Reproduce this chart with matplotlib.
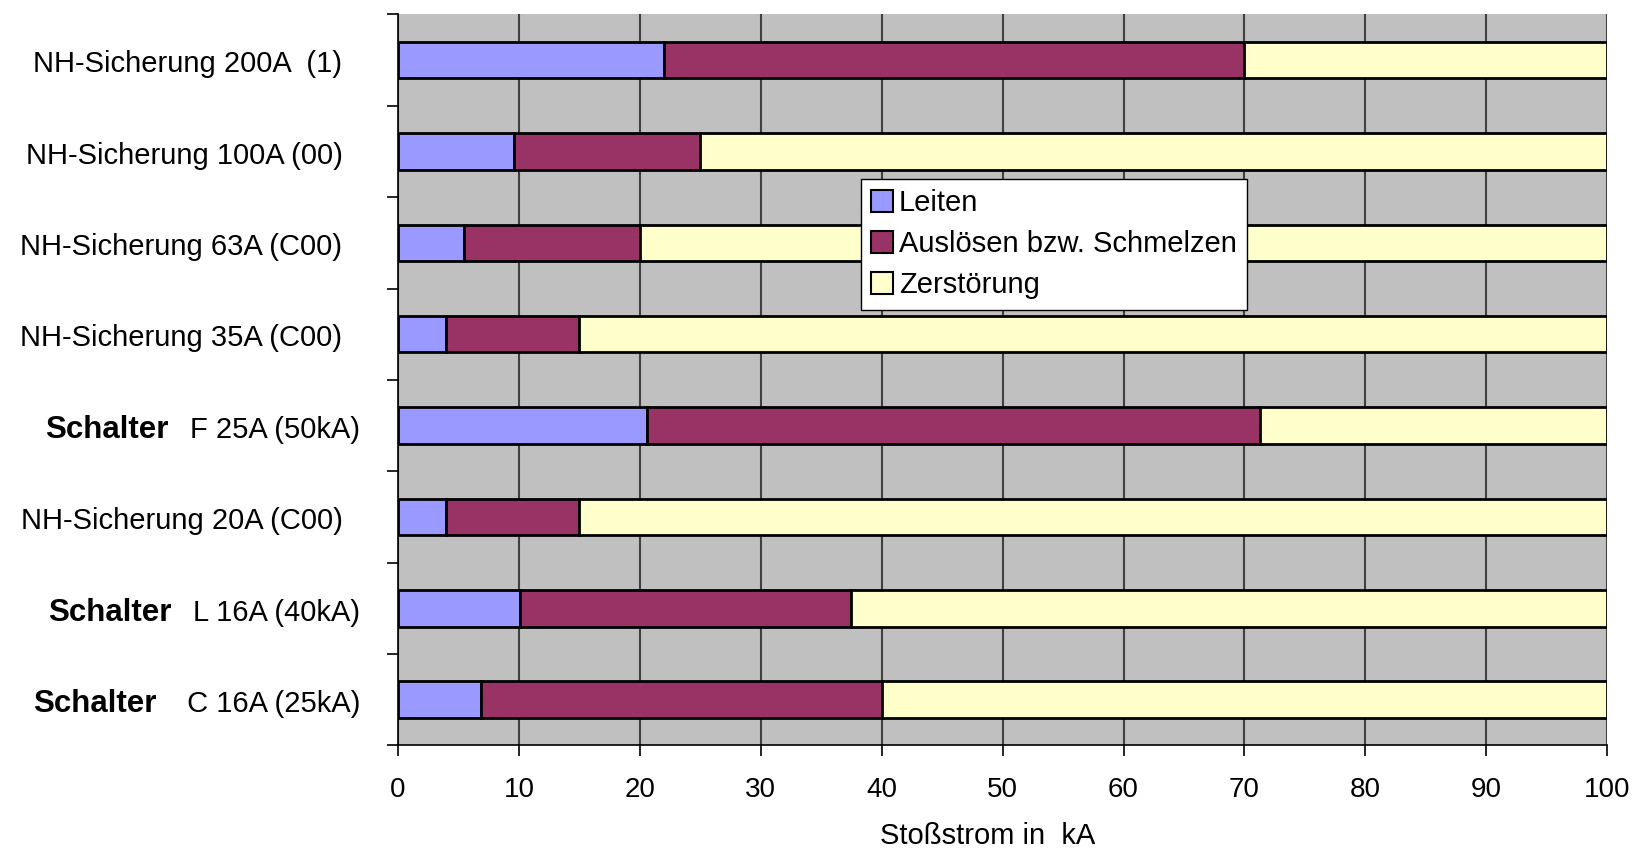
import numpy as np
from matplotlib import pyplot as plt

plt.rcParams['font.family'] = ['Liberation Sans', 'DejaVu Sans']

# categories from top to bottom, "Schalter" prefix is drawn bold
prefixes = ["", "", "", "", "Schalter", "", "Schalter", "Schalter"]
names = [
    "NH-Sicherung 200A  (1)",
    "NH-Sicherung 100A (00)",
    "NH-Sicherung 63A (C00)",
    "NH-Sicherung 35A (C00)",
    "F 25A (50kA)",
    "NH-Sicherung 20A (C00)",
    "L 16A (40kA)",
    " C 16A (25kA)",
]

# stacked values in kA
leiten = [22.0, 9.6, 5.5, 4.0, 20.6, 4.0, 10.1, 6.9]
ausloesen = [48.0, 15.4, 14.5, 11.0, 50.7, 11.0, 27.4, 33.1]
zerstoerung = [30.0, 75.0, 80.0, 85.0, 28.7, 85.0, 62.5, 60.0]

series_names = ["Leiten", "Auslösen bzw. Schmelzen", "Zerstörung"]
colors = ["#9999FF", "#993366", "#FFFFCC"]

fig = plt.figure(figsize=(16.35, 8.48), dpi=100)
ax = fig.add_axes([0.2434, 0.121, 0.7396, 0.862])
ax.set_facecolor("#C0C0C0")

y = np.arange(len(names))
left = np.zeros(len(names))
for vals, lab, col in zip([leiten, ausloesen, zerstoerung], series_names, colors):
    ax.barh(y, vals, left=left, height=0.4, color=col, edgecolor="black",
            linewidth=2, label=lab, zorder=3)
    left = left + np.array(vals)

ax.set_xlim(0, 100)
ax.set_ylim(len(names) - 0.5, -0.5)
ax.set_xticks(np.arange(0, 101, 10))
ax.tick_params(axis="x", labelsize=20, length=8, width=1.2, direction="out", pad=15)
ax.xaxis.grid(True, color="#404040", linewidth=1.5, zorder=1)
ax.set_axisbelow(True)

ax.set_yticks([])
ax.set_yticks(np.arange(-0.5, len(names), 1), minor=True)
ax.tick_params(axis="y", which="minor", length=8, width=1.2, direction="out")
ax.tick_params(axis="y", which="major", length=0)

for s in ["top", "right"]:
    ax.spines[s].set_visible(False)
ax.spines["left"].set_linewidth(1.2)
ax.spines["bottom"].set_linewidth(1.2)

# category labels
for yi, pre, nm in zip(y, prefixes, names):
    off = -27 if pre else -40
    t = ax.annotate(nm, xy=(0, yi), xycoords=("axes fraction", "data"),
                    xytext=(off, -3), textcoords="offset points",
                    ha="right", va="center", fontsize=21)
    if pre:
        ax.annotate(pre, xy=(0, 0.5), xycoords=t, xytext=(-16, 0),
                    textcoords="offset points", ha="right", va="center",
                    fontsize=22.5, fontweight="bold")

ax.set_xlabel("Stoßstrom in  kA", fontsize=21)
ax.xaxis.set_label_coords(0.488, -0.105)

leg = ax.legend(loc="upper left", bbox_to_anchor=(0.383, 0.775), fontsize=21,
                frameon=True, fancybox=False, edgecolor="black",
                framealpha=1, facecolor="white",
                handlelength=0.75, handleheight=0.75, handletextpad=0.2,
                borderpad=0.35, labelspacing=0.45, borderaxespad=0)
leg.get_frame().set_linewidth(1.0)
for h in leg.legend_handles:
    h.set_linewidth(1.5)

plt.savefig("out.png", dpi=100)
